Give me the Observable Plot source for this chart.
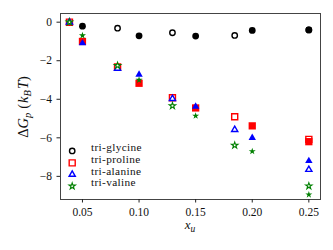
<!DOCTYPE html>
<html>
<head>
<meta charset="utf-8">
<script src="https://cdn.jsdelivr.net/npm/d3@7"></script>
<script src="https://cdn.jsdelivr.net/npm/@observablehq/plot@0.6"></script>
<style>
  html, body { margin: 0; padding: 0; background: white; }
  #chart { width: 333px; height: 250px; }
</style>
</head>
<body>
<div id="chart"></div>
<script>
// ---- data ----
const peptides = ["tri-glycine", "tri-proline", "tri-alanine", "tri-valine"];
const colors = ["#000000", "#ff0000", "#0000ff", "#008000"];
const symbols = ["circle", "square", "triangle", "star"];

// x positions of the two series (open markers, filled markers)
const xOpen = [0.0385, 0.081, 0.1295, 0.1845, 0.25];
const xFilled = [0.05, 0.10, 0.15, 0.20, 0.25];

// ΔG_p values (k_B T)
const glycineOpen = [0, -0.31, -0.55, -0.69, -0.40];
const glycineFilled = [-0.21, -0.71, -0.72, -0.43, -0.40];
const prolineOpen = [0, -2.33, -3.92, -4.91, -6.08];
const prolineFilled = [-1.0, -3.17, -4.45, -5.38, -6.2];
const alanineOpen = [0, -2.4, -3.97, -5.58, -7.65];
const alanineFilled = [-1.09, -2.72, -4.38, -6.0, -7.2];
const valineOpen = [0, -2.25, -4.34, -6.39, -8.5];
const valineFilled = [-0.69, -3.0, -4.86, -6.7, -8.95];

const xTicks = [0.05, 0.10, 0.15, 0.20, 0.25];
const yTicks = [-8, -6, -4, -2, 0];

// ---- tables ----
const openSets = [glycineOpen, prolineOpen, alanineOpen, valineOpen];
const filledSets = [glycineFilled, prolineFilled, alanineFilled, valineFilled];

const openRadius = {circle: 2.7, square: 3.4, triangle: 2.3, star: 2.0};
const filledRadius = {circle: 3.4, square: 4.1, triangle: 2.75, star: 2.2};

const marks = [];
marks.push(Plot.frame({stroke: "#444", strokeWidth: 1}));
marks.push(Plot.axisX({
  ticks: xTicks, tickSize: 3.5, tickPadding: 5, tickFormat: d3.format(".2f"),
  label: null, stroke: "#222", fontSize: 11.5
}));
marks.push(Plot.axisY({
  ticks: yTicks, tickSize: 3.5, tickPadding: 5,
  tickFormat: d => d < 0 ? "\u2212" + Math.abs(d) : String(d),
  label: null, stroke: "#222", fontSize: 11.5
}));

// open markers first
peptides.forEach((p, i) => {
  const sym = symbols[i];
  const rows = xOpen.map((x, j) => ({x, y: openSets[i][j]}));
  marks.push(Plot.dot(rows, {
    x: "x", y: "y", symbol: sym, r: openRadius[sym],
    fill: "white", stroke: colors[i], strokeWidth: sym === "star" ? 1.1 : 1.4
  }));
});
// filled markers on top
peptides.forEach((p, i) => {
  const sym = symbols[i];
  const rows = xFilled.map((x, j) => ({x, y: filledSets[i][j]}));
  marks.push(Plot.dot(rows, {
    x: "x", y: "y", symbol: sym, r: filledRadius[sym],
    fill: colors[i], stroke: "none"
  }));
});

// legend (inside frame, bottom-left)
const legendDy = [-48.6, -36.6, -25, -13.3];
peptides.forEach((p, i) => {
  const sym = symbols[i];
  marks.push(Plot.dot([p], {
    frameAnchor: "bottom-left", dx: 11.7, dy: legendDy[i], symbol: sym,
    r: openRadius[sym], fill: "white", stroke: colors[i],
    strokeWidth: sym === "star" ? 1.1 : 1.4
  }));
  marks.push(Plot.text([p], {
    frameAnchor: "bottom-left", dx: 30.5, dy: legendDy[i], text: d => d,
    textAnchor: "start", fontSize: 11.3, fill: "#111"
  }));
});

const chart = Plot.plot({
  width: 333,
  height: 250,
  marginLeft: 60,
  marginRight: 13,
  marginTop: 13,
  marginBottom: 51,
  x: {domain: [0.0306, 0.2603]},
  y: {domain: [-9.2, 0.45]},
  style: {fontFamily: "'Liberation Serif', 'DejaVu Serif', serif", fontSize: "11.5px", color: "#111", background: "white"},
  marks
});

document.getElementById("chart").appendChild(chart);
// widen the legend lettering slightly (Computer Modern is wider than Times)
d3.select(chart).selectAll("text").filter(function() {
  return peptides.includes(this.textContent);
}).attr("letter-spacing", "0.35px");

// axis labels with math-style subscripts
const svg = d3.select(chart);
const xl = svg.append("text")
  .attr("x", 190).attr("y", 229)
  .attr("text-anchor", "middle")
  .attr("font-family", "'Liberation Serif', serif")
  .attr("font-style", "italic")
  .attr("font-size", 13)
  .attr("fill", "#111");
xl.append("tspan").text("x");
xl.append("tspan").attr("dy", 2.5).attr("font-size", 9.5).text("u");

const yl = svg.append("text")
  .attr("transform", "translate(27.5,107) rotate(-90)")
  .attr("text-anchor", "middle")
  .attr("font-family", "'Liberation Serif', serif")
  .attr("font-size", 14.5)
  .attr("fill", "#111");
yl.append("tspan").text("Δ");
yl.append("tspan").attr("font-style", "italic").text("G");
yl.append("tspan").attr("font-style", "italic").attr("font-size", 10.5).attr("dy", 3).text("p");
yl.append("tspan").attr("dy", -3).attr("dx", 4).text("(");
yl.append("tspan").attr("font-style", "italic").attr("dx", 1).text("k");
yl.append("tspan").attr("font-style", "italic").attr("font-size", 10.5).attr("dy", 3).text("B");
yl.append("tspan").attr("font-style", "italic").attr("dy", -3).attr("dx", 1).text("T");
yl.append("tspan").text(")");
</script>
</body>
</html>
